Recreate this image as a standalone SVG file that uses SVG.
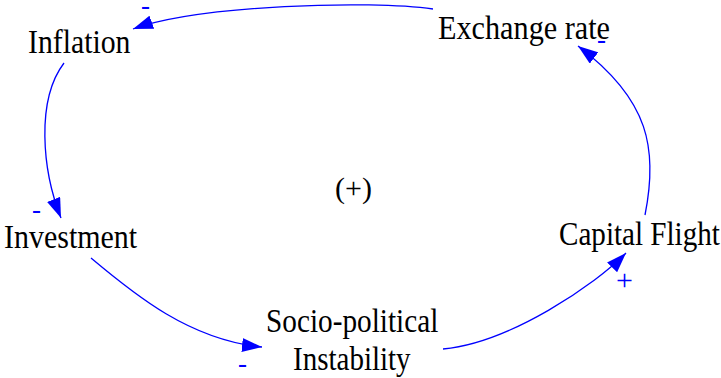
<svg xmlns="http://www.w3.org/2000/svg" width="721" height="378" viewBox="0 0 721 378">
  <defs>
    <marker id="arrow" markerUnits="userSpaceOnUse" markerWidth="20" markerHeight="14" viewBox="0 0 20 14" refX="20" refY="7" orient="auto">
      <path d="M0,0 L20,7 L0,14 z" fill="#0000ff"/>
    </marker>
  </defs>
  <rect width="721" height="378" fill="#ffffff"/>

  <!-- causal links -->
  <g id="connectors" fill="none" stroke="#0000ff" stroke-width="1.3" marker-end="url(#arrow)">
    <path d="M433,9 C370,0 200,5 133,29"/>
    <path d="M64,63 C36,100 42,170 61,218"/>
    <path d="M91,258 C135,295 190,340 262,347"/>
    <path d="M443,349 C510,343 596,284 626,253"/>
    <path d="M645,215 C658,150 650,100 578,46"/>
  </g>

  <!-- link polarities -->
  <g id="polarity" font-family="Liberation Serif" font-size="27" fill="#0000ff">
    <text x="141" y="14">-</text>
    <text x="597" y="48">-</text>
    <text x="32" y="218">-</text>
    <text x="238" y="372">-</text>
    <text x="616" y="290" font-size="30">+</text>
  </g>

  <g font-family="Liberation Serif" font-size="32" fill="#000000">
    <g id="node-inflation">
      <text transform="translate(28,53) scale(0.93,1.05)">Inflation</text>
    </g>
    <g id="node-exchange-rate">
      <text transform="translate(438,39) scale(0.945,1.05)">Exchange rate</text>
    </g>
    <g id="node-investment">
      <text transform="translate(4,248) scale(0.937,1.05)">Investment</text>
    </g>
    <g id="node-capital-flight">
      <text transform="translate(559,245) scale(0.91,1.05)">Capital Flight</text>
    </g>
    <g id="node-instability">
      <text transform="translate(266,332) scale(0.915,1.05)">Socio-political</text>
      <text transform="translate(293,370) scale(0.907,1.05)">Instability</text>
    </g>
    <g id="loop-label">
      <text x="335" y="198" font-size="30">(+)</text>
    </g>
  </g>
</svg>
